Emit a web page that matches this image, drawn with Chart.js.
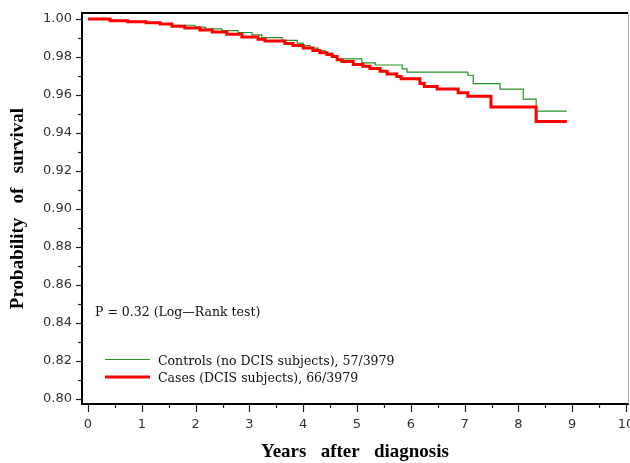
<!DOCTYPE html>
<html>
<head>
<meta charset="utf-8">
<script src="https://cdn.jsdelivr.net/npm/chart.js@4"></script>
<style>
  html, body { margin: 0; padding: 0; background: #fff; }
  #wrap { width: 630px; height: 463px; }
</style>
</head>
<body>
<div id="wrap"><canvas id="c" width="630" height="463"></canvas></div>
<script>
// ---- data ----
const casesTime = [0, 0.41, 0.74, 1.08, 1.34, 1.56, 1.80, 2.08, 2.31, 2.58, 2.86, 3.16, 3.29, 3.66, 3.81, 4.00, 4.18, 4.31, 4.44, 4.54, 4.63, 4.72, 4.93, 5.11, 5.24, 5.43, 5.56, 5.74, 5.82, 6.17, 6.25, 6.49, 6.88, 7.06, 7.49, 8.33, 8.90];
const casesSurv = [1.000, 0.9991, 0.9985, 0.9980, 0.9974, 0.9962, 0.9953, 0.9942, 0.9931, 0.9920, 0.9905, 0.9894, 0.9884, 0.9871, 0.9860, 0.9847, 0.9834, 0.9823, 0.9813, 0.9802, 0.9786, 0.9776, 0.9760, 0.9751, 0.9739, 0.9725, 0.9711, 0.9698, 0.9686, 0.9660, 0.9645, 0.9632, 0.9612, 0.9594, 0.9537, 0.9461, 0.9461];
const controlsTime = [0, 0.41, 0.74, 1.08, 1.34, 1.56, 1.99, 2.18, 2.49, 2.79, 3.05, 3.23, 3.61, 3.89, 4.00, 4.13, 4.28, 4.41, 4.54, 4.63, 5.09, 5.34, 5.84, 5.93, 7.06, 7.16, 7.66, 8.09, 8.33, 8.90];
const controlsSurv = [1.000, 0.9991, 0.9985, 0.9980, 0.9974, 0.9967, 0.9957, 0.9948, 0.9939, 0.9929, 0.9916, 0.9902, 0.9888, 0.9873, 0.9860, 0.9847, 0.9834, 0.9821, 0.9807, 0.9790, 0.9769, 0.9758, 0.9737, 0.9720, 0.9704, 0.9660, 0.9631, 0.9578, 0.9515, 0.9515];

const xTicks = [0, 1, 2, 3, 4, 5, 6, 7, 8, 9, 10];
const yTicks = [0.80, 0.82, 0.84, 0.86, 0.88, 0.90, 0.92, 0.94, 0.96, 0.98, 1.00];
const xMinorTicks = [0.5, 1.5, 2.5, 3.5, 4.5, 5.5, 6.5, 7.5, 8.5, 9.5];
const yMinorTicks = [0.81, 0.83, 0.85, 0.87, 0.89, 0.91, 0.93, 0.95, 0.97, 0.99];

const controlsLabel = 'Controls (no DCIS subjects), 57/3979';
const casesLabel = 'Cases (DCIS subjects), 66/3979';
const pText = 'P = 0.32 (Log\u2014Rank test)';
const xTitle = 'Years   after   diagnosis';
const yTitle = 'Probability   of   survival';

const toPts = (t, s) => t.map((v, i) => ({ x: v, y: s[i] }));

const GREEN = 'rgb(40,145,40)';
const RED = '#ff0000';

const decor = {
  id: 'decor',
  afterDraw(chart) {
    const { ctx, chartArea: a, scales: { x, y } } = chart;
    ctx.save();
    // frame top/right
    ctx.strokeStyle = '#000';
    ctx.lineWidth = 2;
    ctx.beginPath();
    ctx.moveTo(a.left - 1, a.top);
    ctx.lineTo(a.right, a.top);
    ctx.stroke();
    ctx.strokeStyle = '#b0b0b0';
    ctx.lineWidth = 1;
    ctx.beginPath();
    ctx.moveTo(a.right + 0.5, a.top);
    ctx.lineTo(a.right + 0.5, a.bottom);
    ctx.stroke();
    // tick marks
    ctx.strokeStyle = '#222';
    ctx.lineWidth = 1.2;
    const seg = (x1, y1, x2, y2) => { ctx.beginPath(); ctx.moveTo(x1, y1); ctx.lineTo(x2, y2); ctx.stroke(); };
    xTicks.forEach(v => { const p = Math.round(x.getPixelForValue(v)) + 0.5; seg(p, a.bottom, p, a.bottom + 8); });
    xMinorTicks.forEach(v => { const p = Math.round(x.getPixelForValue(v)) + 0.5; seg(p, a.bottom, p, a.bottom + 4); });
    yTicks.forEach(v => { const p = Math.round(y.getPixelForValue(v)) + 0.5; seg(a.left - 6, p, a.left, p); });
    yMinorTicks.forEach(v => { const p = Math.round(y.getPixelForValue(v)) + 0.5; seg(a.left - 4, p, a.left, p); });

    // annotation
    ctx.fillStyle = '#111';
    ctx.textBaseline = 'middle';
    ctx.textAlign = 'left';
    ctx.font = '12.5px "DejaVu Serif"';
    ctx.fillText(pText, 95, 313);

    // legend
    ctx.lineWidth = 1.2;
    ctx.strokeStyle = GREEN;
    seg(105, 359.5, 150, 359.5);
    ctx.lineWidth = 3;
    ctx.strokeStyle = RED;
    seg(105, 377, 150, 377);
    ctx.fillText(controlsLabel, 158, 361.5);
    ctx.fillText(casesLabel, 158, 379);
    ctx.restore();
  }
};

new Chart(document.getElementById('c'), {
  type: 'line',
  data: {
    datasets: [
      {
        label: casesLabel,
        data: toPts(casesTime, casesSurv),
        borderColor: RED,
        borderWidth: 3,
        stepped: true,
        pointRadius: 0,
        fill: false
      },
      {
        label: controlsLabel,
        data: toPts(controlsTime, controlsSurv),
        borderColor: GREEN,
        borderWidth: 1.2,
        stepped: true,
        pointRadius: 0,
        fill: false
      }
    ]
  },
  options: {
    responsive: false,
    animation: false,
    layout: { padding: { top: 13, right: 2, left: 0, bottom: 0 } },
    plugins: { legend: { display: false }, tooltip: { enabled: false } },
    scales: {
      x: {
        type: 'linear',
        min: -0.1115,
        max: 10.037,
        afterBuildTicks: s => { s.ticks = xTicks.map(v => ({ value: v })); },
        afterFit: s => { s.height = 59; s.paddingLeft = 0; s.paddingRight = 0; },
        grid: { display: false, drawTicks: false },
        border: { display: true, color: '#000', width: 2 },
        ticks: {
          padding: 13,
          color: '#333',
          font: { family: '"DejaVu Sans"', size: 13 },
          maxRotation: 0,
          autoSkip: false,
          callback: v => String(v)
        },
        title: {
          display: true,
          text: xTitle,
          color: '#000',
          font: { family: '"Liberation Serif"', size: 19, weight: 'bold', lineHeight: 1.2 },
          padding: { top: 0, bottom: 0 }
        }
      },
      y: {
        type: 'linear',
        min: 0.79737,
        max: 1.00316,
        afterBuildTicks: s => { s.ticks = yTicks.map(v => ({ value: v })); },
        afterFit: s => { s.width = 82; s.paddingTop = 0; s.paddingBottom = 0; },
        grid: { display: false, drawTicks: false },
        border: { display: true, color: '#000', width: 2 },
        ticks: {
          padding: 10,
          color: '#333',
          font: { family: '"DejaVu Sans"', size: 13 },
          autoSkip: false,
          callback: v => v.toFixed(2)
        },
        title: {
          display: true,
          text: yTitle,
          color: '#000',
          font: { family: '"Liberation Serif"', size: 19, weight: 'bold', lineHeight: 1.2 },
          padding: { top: 7, bottom: 0 }
        }
      }
    }
  },
  plugins: [decor]
});
</script>
</body>
</html>
